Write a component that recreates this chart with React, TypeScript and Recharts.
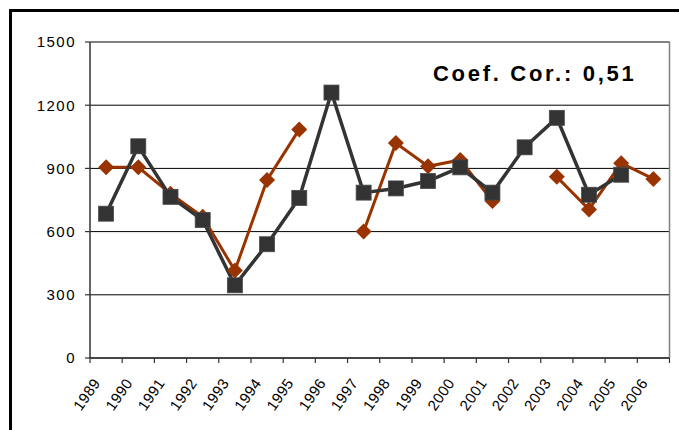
import { LineChart, Line, XAxis, YAxis, CartesianGrid, ReferenceLine } from 'recharts';

const years = [
  '1989', '1990', '1991', '1992', '1993', '1994', '1995', '1996', '1997',
  '1998', '1999', '2000', '2001', '2002', '2003', '2004', '2005', '2006',
];

// serie escura (quadrados)
const grayValues = [
  685, 1005, 765, 655, 345, 540, 760, 1260, 785,
  805, 840, 905, 785, 1000, 1140, 775, 870, null,
];

// serie marrom (losangos)
const brownValues = [
  905, 905, 780, 670, 415, 845, 1085, null, 600,
  1020, 910, 940, 745, null, 860, 705, 925, 850,
];

const yTicks = [0, 300, 600, 900, 1200, 1500];

const data = years.map((year, i) => ({
  year,
  gray: grayValues[i],
  brown: brownValues[i],
}));

const W = 679;
const H = 430;
const X_AXIS_H = 72;
const M = { top: 42, right: 9.5, bottom: 0, left: 0 };
const Y_AXIS_W = 90;
const BAND = (W - Y_AXIS_W - M.right) / years.length;
const FONT = '"Liberation Sans", Arial, sans-serif';

const SquareDot = (props: any) => {
  const { cx, cy, value } = props;
  if (value == null || cx == null || cy == null) return null;
  return <rect x={cx - 7.5} y={cy - 7.5} width={15} height={15} fill="#333333" stroke="#4a4a4a" strokeWidth={0.8} />;
};

const DiamondDot = (props: any) => {
  const { cx, cy, value } = props;
  if (value == null || cx == null || cy == null) return null;
  const r = 8;
  return (
    <polygon
      points={`${cx},${cy - r} ${cx + r},${cy} ${cx},${cy + r} ${cx - r},${cy}`}
      fill="#993300"
    />
  );
};

const XTick = (props: any) => {
  const { x, y, payload, index } = props;
  const left = x - BAND / 2;
  return (
    <g>
      <line x1={left} y1={y} x2={left} y2={y + 5} stroke="#333" strokeWidth={1.2} />
      {index === years.length - 1 && (
        <line x1={x + BAND / 2} y1={y} x2={x + BAND / 2} y2={y + 5} stroke="#333" strokeWidth={1.2} />
      )}
      <text
        transform={`translate(${x - 5},${y + 25}) rotate(-55)`}
        textAnchor="end"
        fontSize={15}
        fontFamily={FONT}
        letterSpacing={0.4}
        fill="#000"
      >
        {payload.value}
      </text>
    </g>
  );
};

export default function App() {
  return (
    <div style={{ position: 'absolute', left: 0, top: 0, width: W, height: H, background: '#fff', overflow: 'hidden' }}>
      <div
        style={{
          position: 'absolute',
          left: 9,
          top: 9,
          width: W,
          height: H,
          borderTop: '3px solid #000',
          borderLeft: '3px solid #000',
        }}
      />
      <div style={{ position: 'absolute', left: 0, top: 0 }}>
        <LineChart width={W} height={H} data={data} margin={M}>
          <CartesianGrid vertical={false} stroke="#000" strokeWidth={1} />
          <CartesianGrid
            horizontal={false}
            stroke="#808080"
            strokeWidth={1.5}
            verticalCoordinatesGenerator={({ offset }: any) => [offset.left + offset.width]}
          />
          <ReferenceLine y={1500} stroke="#808080" strokeWidth={1.5} />
          <XAxis
            dataKey="year"
            interval={0}
            tickSize={0}
            tickMargin={0}
            height={X_AXIS_H}
            padding={{ left: BAND / 2, right: BAND / 2 }}
            tick={<XTick />}
            axisLine={{ stroke: '#333', strokeWidth: 1.5 }}
          />
          <YAxis
            width={Y_AXIS_W}
            domain={[0, 1500]}
            ticks={yTicks}
            interval={0}
            tickSize={5}
            tickMargin={9}
            axisLine={{ stroke: '#333', strokeWidth: 1.5 }}
            tickLine={{ stroke: '#333', strokeWidth: 1.2 }}
            tick={{ fontSize: 15, fill: '#000', fontFamily: FONT, letterSpacing: 1.5 }}
          />
          <Line
            dataKey="brown"
            stroke="#993300"
            strokeWidth={3}
            dot={<DiamondDot />}
            activeDot={false}
            connectNulls={false}
            isAnimationActive={false}
          />
          <Line
            dataKey="gray"
            stroke="#333333"
            strokeWidth={3.5}
            dot={<SquareDot />}
            activeDot={false}
            connectNulls={false}
            isAnimationActive={false}
          />
        </LineChart>
      </div>
      <div
        style={{
          position: 'absolute',
          left: 433,
          top: 61,
          fontFamily: FONT,
          fontWeight: 'bold',
          fontSize: 22,
          letterSpacing: 2.7,
          color: '#000',
          whiteSpace: 'nowrap',
        }}
      >
        Coef. Cor.: 0,51
      </div>
    </div>
  );
}
